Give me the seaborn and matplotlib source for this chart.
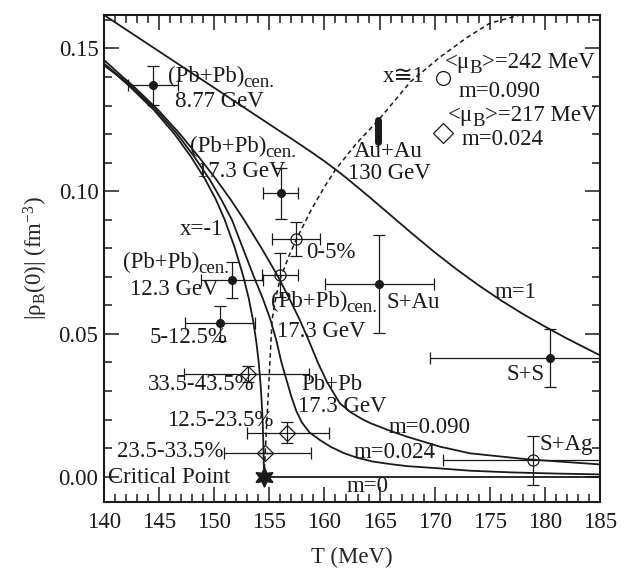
import matplotlib
matplotlib.use("Agg")
import matplotlib.pyplot as plt
import seaborn as sns
import numpy as np
import pandas as pd

# ---------------- data ----------------
# m = 1 line
m1_T = [140, 142, 144, 146, 148, 150, 152, 154, 156, 157, 158, 159, 160, 161, 162, 164, 166, 168,
        170, 172, 174, 176, 178, 180, 182, 185]
m1_v = [0.1617, 0.1566, 0.1515, 0.1464, 0.1413, 0.1362, 0.1311, 0.1260, 0.1209, 0.1184, 0.1158,
        0.1132, 0.1105, 0.1076, 0.1046, 0.0982, 0.0916, 0.0850, 0.0786, 0.0726, 0.0670, 0.0618,
        0.0570, 0.0526, 0.0484, 0.0425]
# x = -1 line ending at the critical point
xm1_T = [140.0, 141.21, 142.24, 144.51, 146.40, 147.90, 149.20, 150.16, 150.95, 151.88, 152.65,
         153.13, 153.51, 153.81, 154.04, 154.25, 154.39, 154.47, 154.52]
xm1_v = [0.1441, 0.1405, 0.137, 0.1285, 0.120, 0.112, 0.104, 0.097, 0.090, 0.080, 0.070, 0.0625,
         0.055, 0.0475, 0.040, 0.030, 0.020, 0.010, 0.0]
# m = 0 line
m0_T = [154.52, 185]
m0_v = [0.0, 0.0]
# m = 0.024 line
m024_T = [140.0, 142.4, 144.7, 146.65, 148.2, 149.6, 150.65, 151.6, 152.6, 153.6, 154.4, 155.1,
          155.65, 156.1, 156.55, 157.0, 157.45, 157.95, 158.65, 159.6, 160.6, 161.8, 163.0, 164.4,
          166.0, 167.5, 170.5, 173.2, 177.0, 181.0, 185.0]
m024_v = [0.1447, 0.137, 0.1285, 0.120, 0.112, 0.104, 0.097, 0.090, 0.080, 0.070, 0.0625, 0.055,
          0.0475, 0.040, 0.034, 0.028, 0.023, 0.019, 0.0155, 0.0128, 0.0104, 0.0082, 0.0066,
          0.0053, 0.0044, 0.0037, 0.0029, 0.0021, 0.0015, 0.0011, 0.0008]
# m = 0.090 line
m090_T = [140.0, 141.7, 142.6, 144.9, 146.9, 148.6, 150.2, 151.5, 152.7, 154.3, 155.8, 156.8,
          157.75, 158.6, 159.4, 160.25, 161.4, 162.4, 163.5, 164.2, 166.0, 167.5, 170.5, 173.2,
          178.4, 185.0]
m090_v = [0.1459, 0.140, 0.137, 0.1285, 0.120, 0.112, 0.104, 0.097, 0.090, 0.080, 0.070, 0.0625,
          0.055, 0.0475, 0.040, 0.033, 0.0257, 0.0225, 0.020, 0.0187, 0.016, 0.014, 0.0105,
          0.0082, 0.0061, 0.0043]
# x ~= 1 dashed line
x1_T = [154.52, 154.65, 154.85, 155.05, 155.25, 155.6, 156.0, 156.8, 157.5, 158.8, 160.0, 161.0,
        162.9, 164.9, 167.8, 170.5, 173.0, 175.0, 177.75]
x1_v = [0.0, 0.010, 0.025, 0.040, 0.055, 0.063, 0.0695, 0.0775, 0.0835, 0.0935, 0.1015, 0.1075,
        0.1167, 0.1249, 0.1383, 0.1470, 0.1540, 0.1588, 0.1617]

# filled points with error bars
fill_T = [144.47, 156.03, 151.64, 150.53, 164.98, 180.47]
fill_v = [0.1371, 0.0992, 0.0689, 0.0537, 0.0674, 0.0415]
fill_Terr = [2.27, 1.56, 2.8, 3.2, 4.95, 10.9]
fill_verr = [0.0068, 0.009, 0.0064, 0.0062, 0.0172, 0.0102]
# open circles with error bars
circ_T = [157.42, 155.97, 178.89]
circ_v = [0.0832, 0.0707, 0.0058]
circ_Terr = [2.15, 1.6, 8.1]
circ_verr = [0.006, 0.0077, 0.0086]
# open diamonds with error bars
dia_T = [153.1, 156.57, 154.62]
dia_v = [0.0360, 0.0154, 0.0084]
dia_Terr_lo = [5.8, 3.6, 3.7]
dia_Terr_hi = [5.5, 3.8, 4.2]
dia_verr = [0.0027, 0.0036, 0.0]
# critical point
cp_T = [154.52]
cp_v = [0.0]
# Au+Au 130 GeV band
auau_T = [164.9, 164.9]
auau_v = [0.1173, 0.1249]
# <muB> markers
mu_circ = (170.79, 0.1397)
mu_dia = (170.79, 0.1202)

# labels: list of segments [(text, is_subscript)], T, v (left / baseline)
labels = [
    ([('(Pb+Pb)', 0), ('cen.', 1)], 145.81, 0.1382),
    ([('8.77 GeV', 0)], 146.44, 0.1295),
    ([('(Pb+Pb)', 0), ('cen.', 1)], 147.80, 0.1138),
    ([('17.3 GeV', 0)], 148.41, 0.1050),
    ([('x=-1', 0)], 146.9, 0.0846),
    ([('(Pb+Pb)', 0), ('cen.', 1)], 141.75, 0.0730),
    ([('12.3 GeV', 0)], 142.36, 0.0636),
    ([('5-12.5%', 0)], 144.17, 0.0467),
    ([('33.5-43.5%', 0)], 144.0, 0.0304),
    ([('12.5-23.5%', 0)], 145.69, 0.0178),
    ([('23.5-33.5%', 0)], 141.15, 0.0070),
    ([('Critical Point', 0)], 140.39, -0.0023),
    ([('0-5%', 0)], 158.33, 0.0765),
    ([('(Pb+Pb)', 0), ('cen.', 1)], 155.12, 0.0593),
    ([('17.3 GeV', 0)], 155.67, 0.0490),
    ([('S+Au', 0)], 165.65, 0.0590),
    ([('m=1', 0)], 175.47, 0.0625),
    ([('S+S', 0)], 176.54, 0.0339),
    ([('Pb+Pb', 0)], 157.94, 0.0304),
    ([('17.3 GeV', 0)], 157.63, 0.0228),
    ([('m=0.090', 0)], 165.8, 0.0152),
    ([('m=0.024', 0)], 162.62, 0.0064),
    ([('S+Ag', 0)], 179.5, 0.0093),
    ([('m=0', 0)], 162.02, -0.0053),
    ([('x≅1', 0)], 165.28, 0.1383),
    ([('Au+Au', 0)], 162.62, 0.1120),
    ([('130 GeV', 0)], 162.17, 0.1042),
    ([('<μ', 0), ('B', 1), ('>=242 MeV', 0)], 170.94, 0.1432),
    ([('m=0.090', 0)], 172.14, 0.1329),
    ([('<μ', 0), ('B', 1), ('>=217 MeV', 0)], 171.24, 0.1247),
    ([('m=0.024', 0)], 172.45, 0.1163),
]

x_ticks = [140, 145, 150, 155, 160, 165, 170, 175, 180, 185]
y_ticks = [0.00, 0.05, 0.10, 0.15]

# ---------------- style ----------------
FS = 16.5
SUBFS = 13.5
sns.set_theme(style='ticks')
plt.rcParams['font.family'] = ['Liberation Serif', 'DejaVu Sans']
plt.rcParams['mathtext.fontset'] = 'custom'
plt.rcParams['mathtext.rm'] = 'Liberation Serif'
plt.rcParams['mathtext.it'] = 'Liberation Serif:italic'
plt.rcParams['font.size'] = FS

fig = plt.figure(figsize=(6.31, 5.72), dpi=100)
ax = fig.add_axes([104 / 631, 1 - 502 / 572, 496 / 631, 487 / 572])
ax.set_xlim(140, 185)
ax.set_ylim(-0.00886, 0.1617)

LW = 1.3
for T, v in [(m1_T, m1_v), (xm1_T, xm1_v), (m0_T, m0_v), (m024_T, m024_v), (m090_T, m090_v)]:
    df = pd.DataFrame({'T': T, 'v': v})
    sns.lineplot(data=df, x='T', y='v', ax=ax, color='k', lw=LW, estimator=None, sort=False)
df = pd.DataFrame({'T': x1_T, 'v': x1_v})
sns.lineplot(data=df, x='T', y='v', ax=ax, color='k', lw=1.1, estimator=None, sort=False,
             linestyle=(0, (3, 2.2)))

ekw = dict(ecolor='k', elinewidth=0.9, capsize=4, capthick=0.9, linestyle='none', clip_on=True)
ax.errorbar(fill_T, fill_v, xerr=fill_Terr, yerr=fill_verr, marker='o', ms=5.5,
            mfc='k', mec='k', **ekw)
ax.errorbar(circ_T, circ_v, xerr=circ_Terr, yerr=circ_verr, marker='o', ms=8,
            mfc='none', mec='k', mew=0.9, **ekw)
ax.errorbar(dia_T, dia_v, xerr=[dia_Terr_lo, dia_Terr_hi], yerr=dia_verr, marker='D', ms=8.5,
            mfc='none', mec='k', mew=0.9, **ekw)
ax.plot(cp_T, cp_v, marker=(6, 1, 0), ms=14, color='k', linestyle='none', clip_on=False, zorder=5)
ax.plot(auau_T, auau_v, color='k', lw=5, solid_capstyle='round')
ax.plot([mu_circ[0]], [mu_circ[1]], marker='o', ms=10, mfc='none', mec='k', mew=0.9, linestyle='none')
ax.plot([mu_dia[0]], [mu_dia[1]], marker='D', ms=10, mfc='none', mec='k', mew=0.9, linestyle='none')

ax.set_xticks(x_ticks)
ax.set_yticks(y_ticks)
ax.set_xticklabels([str(t) for t in x_ticks])
ax.set_yticklabels([f'{t:.2f}' for t in y_ticks])
ax.xaxis.set_minor_locator(matplotlib.ticker.MultipleLocator(1))
ax.yaxis.set_minor_locator(matplotlib.ticker.MultipleLocator(0.01))
ax.tick_params(which='both', direction='in', top=True, right=True, width=1.1, colors='k',
               labelsize=FS)
ax.tick_params(which='major', length=11, pad=4)
ax.tick_params(axis='x', which='major', pad=7)
ax.tick_params(which='minor', length=5.5)
for s in ax.spines.values():
    s.set_linewidth(1.5)
    s.set_color('k')
    s.set_visible(True)

ax.set_xlabel('T (MeV)', fontsize=FS, labelpad=10)
ax.set_ylabel(r'|ρ$_{\rm B}$(0)| (fm$^{-3}$)', fontsize=FS, labelpad=6)

# text labels, with manually offset subscripts
renderer = fig.canvas.get_renderer()
inv = ax.transData.inverted()
for segs, T, v in labels:
    x_disp, y_base = ax.transData.transform((T, v))
    for txt, sub in segs:
        if sub:
            pos = inv.transform((x_disp - 1.0, y_base - 5))
            t = ax.text(pos[0], pos[1], txt, fontsize=SUBFS, ha='left', va='baseline', color='k')
        else:
            pos = inv.transform((x_disp, y_base))
            t = ax.text(pos[0], pos[1], txt, fontsize=FS, ha='left', va='baseline', color='k')
        bb = t.get_window_extent(renderer)
        x_disp = bb.x1

fig.savefig('out.png', dpi=100)
